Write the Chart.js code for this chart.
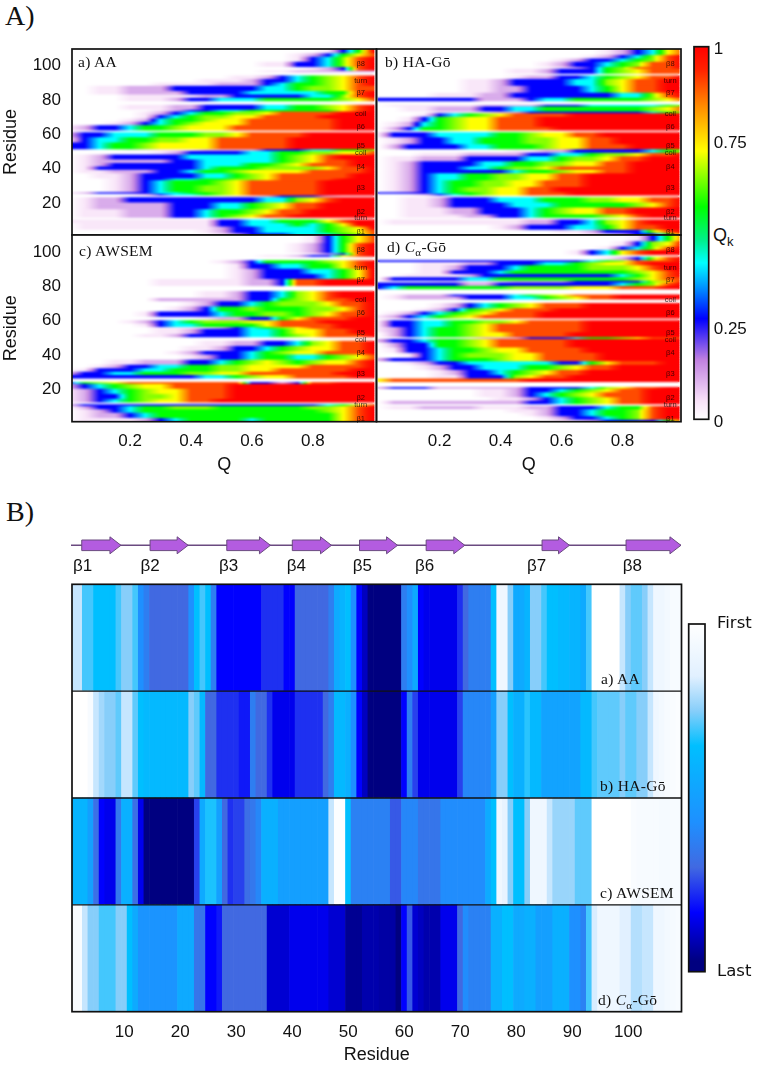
<!DOCTYPE html>
<html>
<head>
<meta charset="utf-8">
<title>Folding routes</title>
<script src="https://cdn.jsdelivr.net/npm/chart.js@4"></script>
<style>
html, body { margin: 0; background: #fff; }
#page { position: relative; width: 757px; height: 1066px; overflow: hidden; }
canvas { position: absolute; }
.tag { position: absolute; font-family: "Liberation Serif", serif; font-size: 15.5px; line-height: 18px; color: #111; white-space: nowrap; letter-spacing: .3px; }
.tag sub { font-size: 11px; line-height: 0; }
.big { position: absolute; font-family: "Liberation Serif", serif; font-size: 28px; color: #111; }
.qk { position: absolute; font-family: "Liberation Sans", sans-serif; font-size: 18px; color: #111; }
.qk sub { font-size: 13px; line-height: 0; }
</style>
</head>
<body>
<div id="page">
  <div class="big" style="left:5px;top:0px">A)</div>
  <div class="big" style="left:6px;top:496px">B)</div>
  <div class="qk" style="left:713px;top:225px">Q<sub>k</sub></div>
</div>
<script>
// Q grid of every row string: 21 points, Q = 0, 0.05 ... 1
// each digit picks a Qk level out of qkLevels
const qkLevels = [0, 0.04, 0.11, 0.27, 0.42, 0.57, 0.65, 0.72, 0.9, 1];
const blank = '000000000000000000000';

// [last residue of the band, Qk along Q]
const aaQk = [
  [2,'000000000012333444568'],[4,'000000000123344445678'],[6,'011111111123344445679'],[8,'011111111133444545799'],
  [10,'111111111133445557899'],[11,blank],[13,'011122233456788999999'],[16,'011122233455678899999'],
  [20,'012222233344567889999'],[23,'012233333333344678999'],[24,'000000000001123332111'],[25,'000012344567888889999'],[26,'123333445567888889999'],
  [30,'000123455667888889999'],[33,'000123455567888889999'],[34,'000123344556678888999'],[37,'001123333445678888899'],
  [39,'011222334556777788889'],[41,'013333333455566667889'],[43,'012333333444556788899'],[45,'012222233444445678899'],
  [48,'012333334444445678999'],[50,'000000123333445566778'],[51,'000011111222233344556'],[55,'334556777788888999999'],
  [58,'134455667788888999999'],[61,'233444555667888899999'],[62,blank],[65,'123345567778888888999'],
  [67,'000123456777888888999'],[69,'000012455677888888999'],[71,'000001345667788889999'],[73,'000001234556678888999'],
  [74,'000000123344555555789'],[77,'000011122333344556789'],[79,blank],[81,'000011123344455555678'],
  [83,'000011111223333344689'],[85,'001122223333444445589'],[88,'001122233333344566788'],[90,'000000111122234556789'],
  [92,'000000000111233456789'],[94,'000000000001123456789'],[96,blank],[97,'000000000000011222222'],
  [99,'000000000000000012389'],[102,'000000000000011334689'],[105,'000000000000000134689'],[107,'000000000000000123578'],
  [110,'000000000000000001359']
];
const haQk = [
  [2,'000000000000001123358'],[4,'000000000000112333689'],[7,'000000001233344578899'],[10,'011111111122334678999'],
  [11,blank],[13,'001111223345555678999'],[17,'001112233345677889999'],[20,'001123333444555556789'],
  [23,'001123334445556677889'],[24,blank],[25,'001234567788899999999'],[26,'333345567788899999999'],[29,'012345667788999999999'],
  [33,'012345566778889999999'],[37,'012344556677889999999'],[39,'012333333455677889999'],[41,'012333445667888889999'],
  [44,'012333344556677889999'],[47,'011222333344566788999'],[49,'000111222233445667889'],[51,'000000000112233333456'],
  [54,'023333445556778889999'],[58,'012334455566778899999'],[61,'133344445567788999999'],[62,blank],
  [64,'023556778888999999999'],[67,'012456778889999999999'],[70,'001356778889999999999'],[72,'000134567888899999999'],
  [73,'000011112233333333456'],[76,'001122233445555555678'],[77,'011111122223334444456'],[79,blank],
  [81,'333333322234455555678'],[84,'000011122333333344689'],[88,'000000112233334578899'],[92,'000000112333344678899'],
  [94,'000000000122334567889'],[95,blank],[98,'000000000112333567888'],[99,'000000000000123568889'],
  [102,'000000000001233456889'],[104,'000000000000123345689'],[106,'000000000000001234689'],[110,'000000000000000123478']
];
const awQk = [
  [3,'011112345555455555789'],[6,'012234555555555555789'],[8,'012345555555555556789'],[10,'023345566655555566789'],
  [11,'233333333333333334578'],[12,blank],[14,'123456778899999999999'],[17,'123356678889999999999'],
  [20,'123456778889999999999'],[23,'234567788889999999999'],[24,'356788888888332388999'],[26,blank],
  [28,'333333333445677888899'],[30,'233445556677888888999'],[32,'013334455566778888899'],[34,'001233445566777788889'],
  [37,'000112223345676567789'],[40,'000000001233455445678'],[42,'000000012333456778889'],[45,'000000001123345677889'],
  [48,'000000000112233467889'],[50,blank],[52,'000001123333445678889'],[55,'000000112333445778899'],
  [56,'000000111123456788999'],[58,'000001344555578888999'],[60,'000012345666778889999'],[62,'000000000122335788899'],
  [65,'000001333345566567889'],[68,'000000012355655566789'],[71,'000000001233456667889'],[73,'000000222222335678899'],
  [77,'000000000112334678999'],[80,blank],[84,'000000111111223889999'],[87,'000000000001233334579'],
  [90,'000000000001233344579'],[93,'000000000001334455789'],[95,'000000000012355556789'],[97,blank],
  [98,'000000000000011233789'],[99,'000000000000000012389'],[105,'000000000000000123589'],[110,'000000000000000013578']
];
const caQk = [
  [2,'000000000000112333358'],[4,'000000000001233456899'],[6,'000000000012334556899'],[8,'000000000112334556899'],
  [10,'011222211122333455899'],[11,blank],[13,'022222222233456788999'],[15,'000000001123456788999'],
  [18,'000000011234567888999'],[20,'000000011233456788999'],[21,'233322222233334678899'],[24,blank],
  [26,'788888888899999999999'],[28,'000011333678899999999'],[31,'000012334567889999999'],[34,'000123344455678899999'],
  [36,'001233444444335788899'],[38,'233345556778888999999'],[41,'001345666778888999999'],[44,'013345567788889999999'],
  [47,'023355678888899999999'],[49,'233455678888899999999'],[50,'000011122233345567888'],[53,'023455677888899999999'],
  [56,'123455678888889999999'],[58,'133445678888889999999'],[60,'133445566788889999999'],[61,blank],
  [63,'123456788889999999999'],[65,'012345678889999999999'],[67,'000123567888999999999'],[70,'000012345678889999999'],
  [72,blank],[74,'012222333445678899999'],[75,'012223333456788899999'],[78,blank],
  [80,'345555555666677788899'],[82,'333333223333333345689'],[83,'000011111222233333679'],[85,'033333445555555556788'],
  [87,'001111233333333345789'],[89,'000113334555555556789'],[92,'000112333455556667899'],[94,'000111223334456778999'],
  [95,'333333333333334568889'],[97,'000000000000000123689'],[98,blank],[101,'000000000000013478999'],
  [103,'000000000000000134689'],[106,'000000000000000013679'],[110,'000000000000000001358']
];

const qTicks = [0.2, 0.4, 0.6, 0.8];
const residueTicks = [20, 40, 60, 80, 100];
const qkTicks = [0, 0.25, 0.75, 1];

// secondary structure labels inside panels A
const secNames = ['β8', 'turn', 'β7', 'coil', 'β6', 'β5', 'coil', 'β4', 'β3', 'β2', 'turn', 'β1'];
const secResidues = [101, 91, 84, 72, 64.5, 53, 49, 41, 29, 15, 11, 3];

// panels B: folding order per residue 1..109, 0 = first, 100 = last
const orderAA = [18,18,30,30,35,35,35,35,30,25,25,30,57,63,70,70,70,70,70,70,70,57,35,30,35,63,83,83,83,83,83,83,83,83,77,77,77,77,83,83,70,70,70,70,70,70,63,45,40,35,57,83,90,97,97,
  97,97,97,97,63,57,45,83,85,85,85,85,85,85,77,70,63,63,63,63,35,8,8,25,45,45,40,25,25,30,35,35,38,38,40,40,45,30,0,0,0,0,0,18,25,28,28,25,18,8,8,6,4,4];
const orderHA = [0,0,0,4,18,22,25,25,28,18,18,28,35,38,38,38,38,38,38,38,38,25,28,38,70,70,77,77,77,77,80,80,63,70,70,77,85,85,85,85,77,77,77,77,77,70,63,38,38,42,57,83,90,97,97,
  97,97,97,97,83,63,75,85,85,85,85,85,85,85,75,60,60,60,60,60,50,25,25,35,42,42,32,38,38,48,48,48,48,48,48,48,38,38,30,28,28,28,28,25,28,28,25,25,18,8,6,4,3,2];
const orderAW = [40,40,40,50,68,83,85,85,65,42,42,68,85,97,97,97,97,97,97,97,97,97,75,45,33,33,50,70,77,75,75,68,65,60,42,42,42,50,50,50,50,50,50,50,50,50,18,2,2,35,62,62,62,62,62,
  62,62,72,72,60,60,60,66,66,66,66,58,58,58,58,58,58,58,58,45,35,8,12,25,35,35,25,8,8,8,18,23,23,23,23,28,28,28,0,0,0,0,0,0,0,3,4,4,4,4,5,5,4,4];
const orderCA = [3,3,18,25,25,30,30,30,25,25,35,45,55,55,55,55,55,55,55,45,45,45,66,66,83,83,80,70,70,70,70,70,70,70,70,88,88,88,88,85,85,85,85,85,85,85,88,88,88,95,95,95,92,92,92,
  93,93,93,97,83,72,88,90,92,92,92,85,85,85,70,58,62,62,62,62,42,42,35,35,45,45,42,42,50,50,50,42,42,42,57,57,62,30,16,8,8,8,8,15,15,20,20,18,18,8,8,6,5,4];
const orderTicks = [10, 20, 30, 40, 50, 60, 70, 80, 90, 100];

// beta strands on top of panels B, first and last residue
const strandNames = ['β1', 'β2', 'β3', 'β4', 'β5', 'β6', 'β7', 'β8'];
const strandStart = [2.4, 14.6, 28.3, 40, 52, 63.9, 84.6, 99.6];
const strandEnd = [9.4, 21.4, 36.1, 47, 58.8, 70.8, 89.5, 109.4];
const strandLabelAt = [0.84, 12.9, 26.9, 39, 50.8, 61.9, 81.9, 99];

// colour maps
const qkPos = [0, 0.05, 0.16, 0.27, 0.35, 0.42, 0.48, 0.57, 0.72, 0.84, 0.94, 1];
const qkCol = [[255,255,255],[248,225,248],[192,128,224],[0,0,255],[0,140,255],[0,255,255],[0,240,140],[0,255,0],[255,255,0],[255,140,0],[255,32,0],[255,0,0]];
const orderPos = [0, 15, 25, 35, 57, 70, 83, 97, 100];
const orderCol = [[255,255,255],[225,240,255],[135,206,250],[0,191,255],[30,144,255],[65,105,225],[0,0,255],[0,0,128],[0,0,128]];

function ramp(pos, col, v) {
  let i = 1;
  while (i < pos.length - 1 && v > pos[i]) i++;
  const t = Math.min(1, Math.max(0, (v - pos[i - 1]) / (pos[i] - pos[i - 1])));
  const c = col[i - 1].map((a, k) => Math.round(a + (col[i][k] - a) * t));
  return `rgb(${c[0]},${c[1]},${c[2]})`;
}

Chart.defaults.animation = false;
Chart.defaults.font.family = '"Liberation Sans", sans-serif';
Chart.defaults.font.size = 17;
Chart.defaults.color = '#111';
Chart.defaults.plugins.legend.display = false;
Chart.defaults.plugins.tooltip.enabled = false;

function addCanvas(left, top, width, height) {
  const c = document.createElement('canvas');
  c.width = width;
  c.height = height;
  c.style.left = left + 'px';
  c.style.top = top + 'px';
  document.getElementById('page').appendChild(c);
  return c;
}

function addTag(left, cy, html) {
  const d = document.createElement('div');
  d.className = 'tag';
  d.style.left = left + 'px';
  d.style.top = (cy - 9) + 'px';
  d.innerHTML = html;
  document.getElementById('page').appendChild(d);
}

// tick labels must not push the plot area in
function noOverflow(s) {
  s.paddingTop = s.paddingBottom = s.paddingLeft = s.paddingRight = 0;
}

const frame = {
  id: 'frame',
  afterDatasetsDraw(chart) {
    const a = chart.chartArea, c = chart.ctx;
    c.save();
    c.strokeStyle = '#111';
    c.lineWidth = 1.7;
    c.strokeRect(a.left, a.top, a.width, a.height);
    c.restore();
  }
};

// the heat maps of the original are slightly soft
const soften = {
  id: 'soften',
  afterDatasetsDraw(chart) {
    const a = chart.chartArea, c = chart.ctx;
    c.save();
    c.beginPath();
    c.rect(a.left, a.top, a.width, a.height);
    c.clip();
    c.filter = 'blur(0.9px)';
    c.drawImage(chart.canvas, 0, 0);
    c.restore();
  }
};

const secLabels = {
  id: 'secLabels',
  afterDatasetsDraw(chart) {
    const c = chart.ctx;
    c.save();
    c.font = '7.5px "Liberation Sans", sans-serif';
    c.fillStyle = 'rgba(0,0,0,0.72)';
    c.textAlign = 'center';
    c.textBaseline = 'middle';
    secNames.forEach((s, i) => {
      c.fillText(s, chart.scales.x.getPixelForValue(0.957), chart.scales.y.getPixelForValue(secResidues[i]));
    });
    c.restore();
  }
};

function rowGradient(chart, text) {
  const x = chart.scales.x;
  const g = chart.ctx.createLinearGradient(x.getPixelForValue(0), 0, x.getPixelForValue(1), 0);
  const n = text.length - 1;
  for (let i = 0; i < n; i++) {
    const a = qkLevels[+text[i]], b = qkLevels[+text[i + 1]];
    for (let s = 0; s < 4; s++) {
      g.addColorStop((i + s / 4) / n, ramp(qkPos, qkCol, a + (b - a) * s / 4));
    }
  }
  g.addColorStop(1, ramp(qkPos, qkCol, qkLevels[+text[n]]));
  return g;
}

function heatPanel(rows, p) {
  const data = [], rowText = [];
  for (let r = 1; r <= 110; r++) {
    data.push({ y: r, x: p.span });
    rowText.push(rows.find(b => r <= b[0])[1]);
  }
  const fills = {};
  new Chart(addCanvas(p.left, p.top, p.width, p.height), {
    type: 'bar',
    data: {
      datasets: [{
        data: data,
        barPercentage: 1,
        categoryPercentage: 1,
        backgroundColor(ctx) {
          if (ctx.dataIndex === undefined || !ctx.chart.chartArea) return '#fff';
          const t = rowText[ctx.dataIndex];
          return fills[t] || (fills[t] = rowGradient(ctx.chart, t));
        }
      }]
    },
    options: {
      indexAxis: 'y',
      responsive: false,
      layout: { padding: p.padding },
      scales: {
        x: {
          type: 'linear',
          min: p.qMin,
          max: p.qMax,
          display: p.showQ,
          offset: false,
          grid: { display: false, drawTicks: false },
          border: { display: false },
          afterBuildTicks(s) { s.ticks = qTicks.map(v => ({ value: v })); },
          afterFit(s) { noOverflow(s); if (p.showQ) s.height = 58.3; },
          ticks: { padding: 9, maxRotation: 0, autoSkip: false, callback: v => v },
          title: { display: true, text: 'Q', font: { size: 18 }, padding: { top: 0, bottom: 4 } }
        },
        y: {
          type: 'linear',
          min: p.rMin,
          max: p.rMax,
          display: p.showResidue,
          offset: false,
          grid: { display: false, drawTicks: false },
          border: { display: false },
          afterBuildTicks(s) { s.ticks = residueTicks.map(v => ({ value: v })); },
          afterFit(s) { noOverflow(s); if (p.showResidue) s.width = 72; },
          ticks: { padding: 11, autoSkip: false, callback: v => v },
          title: { display: true, text: 'Residue', font: { size: 18 }, padding: { top: 0, bottom: 0 } }
        }
      }
    },
    plugins: [soften, frame, secLabels]
  });
}

heatPanel(aaQk, { left: 0, top: 44, width: 380, height: 196, padding: { top: 5, bottom: 5, right: 3.5 }, span: [0.01, 1], qMin: 0.009, qMax: 1.009, rMin: 1.3, rMax: 109.8, showQ: false, showResidue: true });
heatPanel(haQk, { left: 370, top: 44, width: 320, height: 196, padding: { top: 5, bottom: 5, left: 6.5, right: 9 }, span: [0, 0.985], qMin: -0.007, qMax: 0.992, rMin: 1.3, rMax: 109.8, showQ: false, showResidue: false });
heatPanel(awQk, { left: 0, top: 230, width: 380, height: 250, padding: { top: 5, right: 3.5 }, span: [0.01, 1], qMin: 0.009, qMax: 1.009, rMin: 1.1, rMax: 110, showQ: true, showResidue: true });
heatPanel(caQk, { left: 370, top: 230, width: 320, height: 250, padding: { top: 5, left: 6.5, right: 9 }, span: [0, 0.985], qMin: -0.007, qMax: 0.992, rMin: 1.1, rMax: 110, showQ: true, showResidue: false });

addTag(78, 62, 'a) AA');
addTag(385, 62, 'b) HA-Gō');
addTag(79, 251, 'c) AWSEM');
addTag(387, 247, 'd) <i>C</i><sub>α</sub>-Gō');

// Qk colour bar
new Chart(addCanvas(685, 40, 72, 395), {
  type: 'bar',
  data: {
    labels: ['Qk'],
    datasets: [{
      data: [[0, 1]],
      barPercentage: 1,
      categoryPercentage: 1,
      backgroundColor(ctx) {
        if (!ctx.chart.chartArea) return '#fff';
        const y = ctx.chart.scales.y;
        const g = ctx.chart.ctx.createLinearGradient(0, y.getPixelForValue(0), 0, y.getPixelForValue(1));
        qkPos.forEach(v => g.addColorStop(v, ramp(qkPos, qkCol, v)));
        return g;
      }
    }]
  },
  options: {
    responsive: false,
    layout: { padding: { left: 9, top: 6.7, bottom: 15.7 } },
    scales: {
      x: { display: false },
      y: {
        position: 'right',
        min: 0,
        max: 1,
        grid: { display: false, drawTicks: false },
        border: { display: false },
        afterBuildTicks(s) { s.ticks = qkTicks.map(v => ({ value: v })); },
        afterFit(s) { noOverflow(s); s.width = 48.3; },
        ticks: { padding: 5, labelOffset: 3, autoSkip: false, callback: v => v }
      }
    }
  },
  plugins: [frame]
});

// topology arrows drawn above the strips
const topology = {
  id: 'topology',
  afterDraw(chart) {
    const c = chart.ctx, x = chart.scales.x, cy = 15.3;
    c.save();
    c.strokeStyle = '#6a4a80';
    c.lineWidth = 1.6;
    c.beginPath();
    c.moveTo(71, cy);
    c.lineTo(x.getPixelForValue(strandEnd[7]), cy);
    c.stroke();
    strandStart.forEach((s, i) => {
      const a = x.getPixelForValue(s), b = x.getPixelForValue(strandEnd[i]), h = b - 11;
      c.beginPath();
      c.moveTo(a, cy - 5.3);
      c.lineTo(h, cy - 5.3);
      c.lineTo(h, cy - 8.5);
      c.lineTo(b, cy);
      c.lineTo(h, cy + 8.5);
      c.lineTo(h, cy + 5.3);
      c.lineTo(a, cy + 5.3);
      c.closePath();
      c.fillStyle = '#b35ce0';
      c.fill();
      c.lineWidth = 1;
      c.stroke();
    });
    c.fillStyle = '#111';
    c.font = '17px "Liberation Sans", sans-serif';
    c.textBaseline = 'middle';
    c.textAlign = 'left';
    strandNames.forEach((s, i) => {
      c.fillText(s, x.getPixelForValue(strandLabelAt[i]), 36.7);
    });
    c.restore();
  }
};

// one stacked bar per residue in each of the four strips, bottom strip first
const stripOrder = [orderCA, orderAW, orderHA, orderAA];
const rowLines = {
  id: 'rowLines',
  afterDatasetsDraw(chart) {
    const a = chart.chartArea, c = chart.ctx;
    c.save();
    c.strokeStyle = '#111';
    c.lineWidth = 1.3;
    [1, 2, 3].forEach(v => {
      const y = chart.scales.y.getPixelForValue(v);
      c.beginPath();
      c.moveTo(a.left, y);
      c.lineTo(a.right, y);
      c.stroke();
    });
    c.restore();
  }
};

new Chart(addCanvas(0, 530, 700, 536), {
  type: 'bar',
  data: {
    datasets: stripOrder.map((order, n) => ({
      data: order.map((v, i) => ({ x: i + 1, y: 1 })),
      barPercentage: 1,
      categoryPercentage: 1,
      backgroundColor(ctx) {
        if (ctx.dataIndex === undefined) return '#fff';
        return ramp(orderPos, orderCol, stripOrder[ctx.datasetIndex][ctx.dataIndex]);
      }
    }))
  },
  options: {
    responsive: false,
    layout: { padding: { top: 54.3, left: 72, right: 18.5 } },
    scales: {
      x: {
        type: 'linear',
        stacked: true,
        min: 0.66,
        max: 109.5,
        offset: false,
        grid: { display: false, drawTicks: false },
        border: { display: false },
        afterBuildTicks(s) { s.ticks = orderTicks.map(v => ({ value: v })); },
        afterFit(s) { noOverflow(s); s.height = 54.3; },
        ticks: { padding: 10, maxRotation: 0, autoSkip: false, callback: v => v },
        title: { display: true, text: 'Residue', font: { size: 18 }, padding: { top: 0, bottom: 0 } }
      },
      y: { display: false, stacked: true, min: 0, max: 4 }
    }
  },
  plugins: [frame, rowLines, topology]
});

addTag(601, 679, 'a) AA');
addTag(600, 786, 'b) HA-Gō');
addTag(600, 893, 'c) AWSEM');
addTag(598, 1000, 'd) <i>C</i><sub>α</sub>-Gō');

// First / Last colour bar
const orderNames = { 0: 'First', 100: 'Last' };
new Chart(addCanvas(680, 615, 77, 370), {
  type: 'bar',
  data: {
    labels: ['order'],
    datasets: [{
      data: [[0, 100]],
      barPercentage: 1,
      categoryPercentage: 1,
      backgroundColor(ctx) {
        if (!ctx.chart.chartArea) return '#fff';
        const y = ctx.chart.scales.y;
        const g = ctx.chart.ctx.createLinearGradient(0, y.getPixelForValue(0), 0, y.getPixelForValue(100));
        orderPos.forEach(v => g.addColorStop(v / 100, ramp(orderPos, orderCol, v)));
        return g;
      }
    }]
  },
  options: {
    responsive: false,
    layout: { padding: { left: 8.7, top: 9, bottom: 13.3 } },
    scales: {
      x: { display: false },
      y: {
        position: 'right',
        reverse: true,
        min: 0,
        max: 100,
        grid: { display: false, drawTicks: false },
        border: { display: false },
        afterBuildTicks(s) { s.ticks = [{ value: 0 }, { value: 100 }]; },
        afterFit(s) { noOverflow(s); s.width = 52; },
        ticks: { padding: 12, autoSkip: false, font: { family: '"DejaVu Sans"', size: 16.5 }, callback: v => orderNames[v] }
      }
    }
  },
  plugins: [frame]
});
</script>
</body>
</html>
